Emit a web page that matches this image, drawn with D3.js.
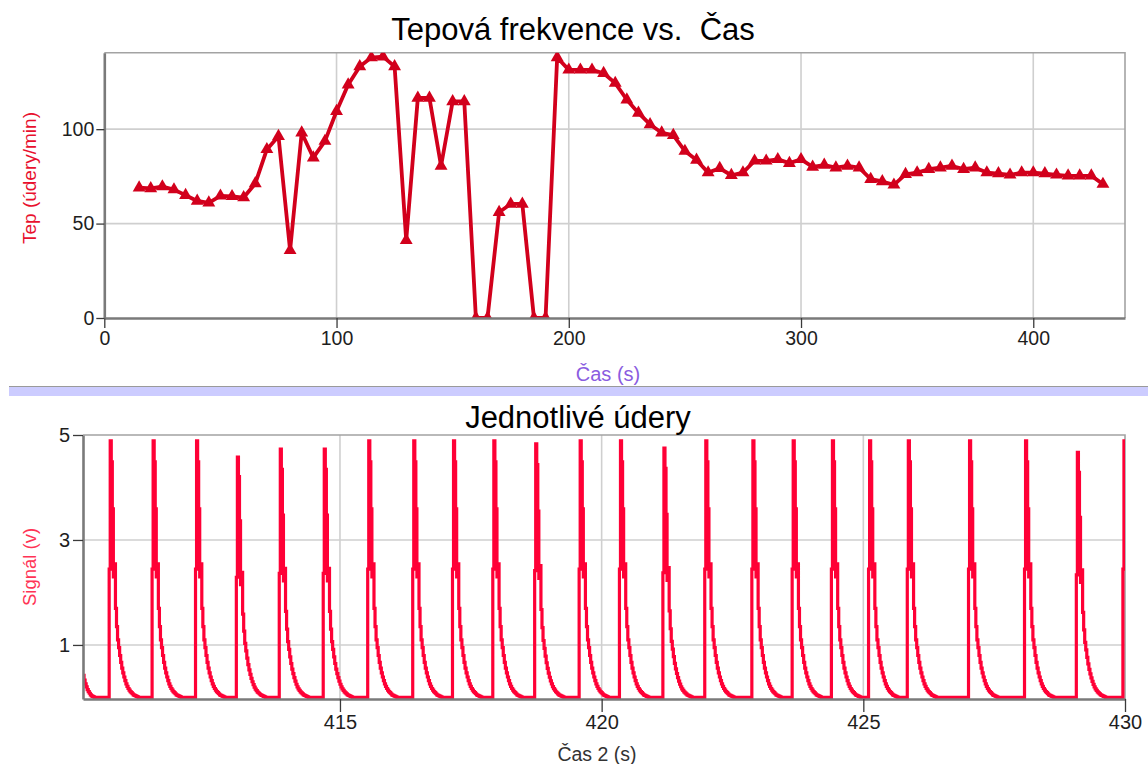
<!DOCTYPE html>
<html>
<head>
<meta charset="utf-8">
<script src="https://cdn.jsdelivr.net/npm/d3@7"></script>
<style>
body {margin:0; background:#fff;}
text {font-family:"Liberation Sans", Arial, sans-serif;}
</style>
</head>
<body>
<div id="chart"></div>
<script>
// horni graf - tepova frekvence
var hrTime = [15,20,25,30,35,40,45,50,55,60,65,70,75,80,85,90,95,100,105,110,115,120,125,130,135,140,145,150,155,160,165,170,175,180,185,190,195,200,205,210,215,220,225,230,235,240,245,250,255,260,265,270,275,280,285,290,295,300,305,310,315,320,325,330,335,340,345,350,355,360,365,370,375,380,385,390,395,400,405,410,415,420,425,430];
var hrValue = [69,68.6,69.6,68,65,62,61,64.7,64.4,63.8,71.2,89.3,96.3,35.8,98.1,84.9,93.7,109.5,123.5,133.2,137.9,138.4,133.2,41.1,116.5,116.5,80.5,114.7,114.7,0,0,56,60.4,60.4,0,0,138,131.4,131.4,131.4,129.6,124.4,115.6,108.6,102.5,98.1,96.8,88.4,83.7,77,79.3,75.6,77,83.2,83.2,84,82,84,80,81,79.6,80.5,79.6,73.5,72.3,70.5,76.1,77,78.8,79.6,80.5,78.8,79.6,77,76.5,75.8,77,77,76.5,75.8,75.3,75.3,75.3,70.9];
var topXTicks = [0,100,200,300,400];
var topYTicks = [0,50,100];

// dolni graf - jednotlive udery
var beatOnset = [410.59,411.41,412.24,413.02,413.84,414.68,415.53,416.39,417.15,417.92,418.72,419.57,420.34,421.17,421.97,422.87,423.64,424.39,425.10,425.84,427.01,428.08,429.07,429.96];
var beatPeak = [4.89,4.89,4.89,4.58,4.73,4.73,4.89,4.89,4.89,4.89,4.83,4.89,4.89,4.75,4.89,4.89,4.89,4.89,4.89,4.89,4.89,4.89,4.67,4.89];
// tvar jednoho pulzu, vzorky po 0.02 s od nabehu
var beatShape = [2.45,4.9,4.5,3.6,2.3,2.55,1.7,1.35,1.1,0.95,0.8,0.67,0.56,0.47,0.39,0.32,0.26,0.21,0.17,0.14,0.11,0.09,0.07,0.05,0.04,0.03,0.02,0.01,0];
var startTail = [0.42,0.33,0.26,0.2,0.15,0.11,0.08,0.05,0.03,0.02,0.01,0];
var botXTicks = [415,420,425,430];
var botYTicks = [1,3,5];

var W = 1148, H = 764;
var svg = d3.select('#chart').append('svg').attr('width',W).attr('height',H);
svg.append('rect').attr('width',W).attr('height',H).attr('fill','#fff');

var gridColor = '#cfcfcf', axisColor = '#7a7a7a', labelColor = '#1e1e1e';

function frame(x0,x1,y0,y1) {
	svg.append('path')
		.attr('d','M'+x0+','+y0+'H'+x1+'V'+y1)
		.attr('fill','none')
		.attr('stroke','#a3a3a3')
		.attr('stroke-width',1.6);
}

function styleAxis(g, fs) {
	g.select('.domain').attr('stroke',axisColor).attr('stroke-width',2.6);
	g.selectAll('.tick line').attr('stroke','#3a3a3a').attr('stroke-width',1.3);
	g.selectAll('.tick text').attr('fill',labelColor).style('font-size',fs+'px')
		.style('font-family','"Liberation Sans", Arial, sans-serif');
}

// ---------- horni graf ----------
var tL = 104.3, tR = 1125, tT = 52.7, tB = 318;
var xTop = d3.scaleLinear().domain([0,439.5]).range([tL,tR]);
var yTop = d3.scaleLinear().domain([0,140.5]).range([tB,tT]);

svg.append('g').selectAll('line').data(topXTicks.filter(d=>d>0)).enter().append('line')
	.attr('x1',d=>xTop(d)).attr('x2',d=>xTop(d)).attr('y1',tT).attr('y2',tB)
	.attr('stroke',gridColor).attr('stroke-width',1.6);
svg.append('g').selectAll('line').data(topYTicks.filter(d=>d>0)).enter().append('line')
	.attr('x1',tL).attr('x2',tR).attr('y1',d=>yTop(d)).attr('y2',d=>yTop(d))
	.attr('stroke',gridColor).attr('stroke-width',1.6);
frame(tL,tR,tT,tB);

svg.append('clipPath').attr('id','clipTop').append('rect')
	.attr('x',tL).attr('y',tT).attr('width',tR-tL).attr('height',tB-tT);

var hrData = hrTime.map((t,i)=>[t,hrValue[i]]);
var gTop = svg.append('g').attr('clip-path','url(#clipTop)');
gTop.append('path')
	.datum(hrData)
	.attr('d',d3.line().x(d=>xTop(d[0])).y(d=>yTop(d[1])))
	.attr('fill','none')
	.attr('stroke','#d2001c')
	.attr('stroke-width',3.8)
	.attr('stroke-linejoin','round');
gTop.selectAll('.tri').data(hrData).enter().append('path')
	.attr('class','tri')
	.attr('d',d3.symbol().type(d3.symbolTriangle).size(72))
	.attr('transform',d=>'translate('+xTop(d[0])+','+yTop(d[1])+')')
	.attr('fill','#d2001c');

var gx = svg.append('g').attr('transform','translate(0,'+tB+')');
gx.call(d3.axisBottom(xTop).tickValues(d3.range(20,440,20).filter(d=>d%100)).tickSize(4).tickFormat(''));
gx.call(d3.axisBottom(xTop).tickValues(topXTicks).tickSize(10).tickPadding(3).tickSizeOuter(0).tickFormat(d3.format('d')));
styleAxis(gx,19.5);

var gy = svg.append('g').attr('transform','translate('+tL+',0)');
gy.call(d3.axisLeft(yTop).tickValues(d3.range(10,141,10).filter(d=>d%50)).tickSize(3).tickFormat(''));
gy.call(d3.axisLeft(yTop).tickValues(topYTicks).tickSize(8).tickPadding(2).tickSizeOuter(0).tickFormat(d3.format('d')));
styleAxis(gy,19.5);

svg.append('text').attr('x',573).attr('y',40).attr('text-anchor','middle').attr('xml:space','preserve')
	.style('font-size','31px').attr('fill','#000').text('Tepová frekvence vs.  Čas');
svg.append('text').attr('transform','translate(36,178) rotate(-90)').attr('text-anchor','middle')
	.style('font-size','19px').attr('fill','#e8102e').text('Tep (údery/min)');
svg.append('text').attr('x',608).attr('y',381).attr('text-anchor','middle')
	.style('font-size','20px').attr('fill','#8a5ce0').text('Čas (s)');

// oddelovac
svg.append('line').attr('x1',9).attr('x2',W).attr('y1',386.5).attr('y2',386.5)
	.attr('stroke','#9a9a9a').attr('stroke-width',1.2);
svg.append('rect').attr('x',9).attr('y',387).attr('width',W-9).attr('height',9).attr('fill','#ccccff');

// ---------- dolni graf ----------
var bL = 83, bR = 1125, bT = 435, bB = 699;
var xBot = d3.scaleLinear().domain([410.09,430]).range([bL,bR]);
var yBot = d3.scaleLinear().domain([-0.03,5]).range([bB,bT]);

svg.append('g').selectAll('line').data(botXTicks.filter(d=>d<430)).enter().append('line')
	.attr('x1',d=>xBot(d)).attr('x2',d=>xBot(d)).attr('y1',bT).attr('y2',bB)
	.attr('stroke',gridColor).attr('stroke-width',1.6);
svg.append('g').selectAll('line').data(botYTicks.filter(d=>d<5)).enter().append('line')
	.attr('x1',bL).attr('x2',bR).attr('y1',d=>yBot(d)).attr('y2',d=>yBot(d))
	.attr('stroke',gridColor).attr('stroke-width',1.6);
frame(bL,bR,bT,bB);

svg.append('clipPath').attr('id','clipBot').append('rect')
	.attr('x',bL).attr('y',bT-2).attr('width',bR-bL).attr('height',bB-bT+2);

var dt = 0.02;
var signal = [];
startTail.forEach((v,i)=>signal.push([410.09+i*dt,v]));
beatOnset.forEach((t0,k)=>{
	beatShape.forEach((v,i)=>signal.push([t0+i*dt, v*beatPeak[k]/4.9]));
});

svg.append('g').attr('clip-path','url(#clipBot)').append('path')
	.datum(signal)
	.attr('d',d3.line().curve(d3.curveStepAfter).x(d=>xBot(d[0])).y(d=>yBot(d[1])))
	.attr('fill','none')
	.attr('stroke','#ff0036')
	.attr('stroke-width',3.2)
	.attr('stroke-linejoin','miter');

var bx = svg.append('g').attr('transform','translate(0,'+bB+')');
bx.call(d3.axisBottom(xBot).tickValues(d3.range(411,430,1).filter(d=>d%5)).tickSize(7).tickFormat(''));
bx.call(d3.axisBottom(xBot).tickValues(botXTicks).tickSize(13).tickPadding(3).tickSizeOuter(0).tickFormat(d3.format('d')));
styleAxis(bx,20);

var by = svg.append('g').attr('transform','translate('+bL+',0)');
by.call(d3.axisLeft(yBot).tickValues([0,2,4]).tickSize(5).tickFormat(''));
by.call(d3.axisLeft(yBot).tickValues(botYTicks).tickSize(10).tickPadding(3).tickSizeOuter(0).tickFormat(d3.format('d')));
styleAxis(by,20);

svg.append('text').attr('x',578).attr('y',428).attr('text-anchor','middle')
	.style('font-size','31px').attr('fill','#000').text('Jednotlivé údery');
svg.append('text').attr('transform','translate(36,567) rotate(-90)').attr('text-anchor','middle')
	.style('font-size','18.5px').attr('fill','#ff3355').text('Signál (v)');
svg.append('text').attr('x',597).attr('y',761).attr('text-anchor','middle')
	.style('font-size','19.5px').attr('fill','#333').text('Čas 2 (s)');
</script>
</body>
</html>
